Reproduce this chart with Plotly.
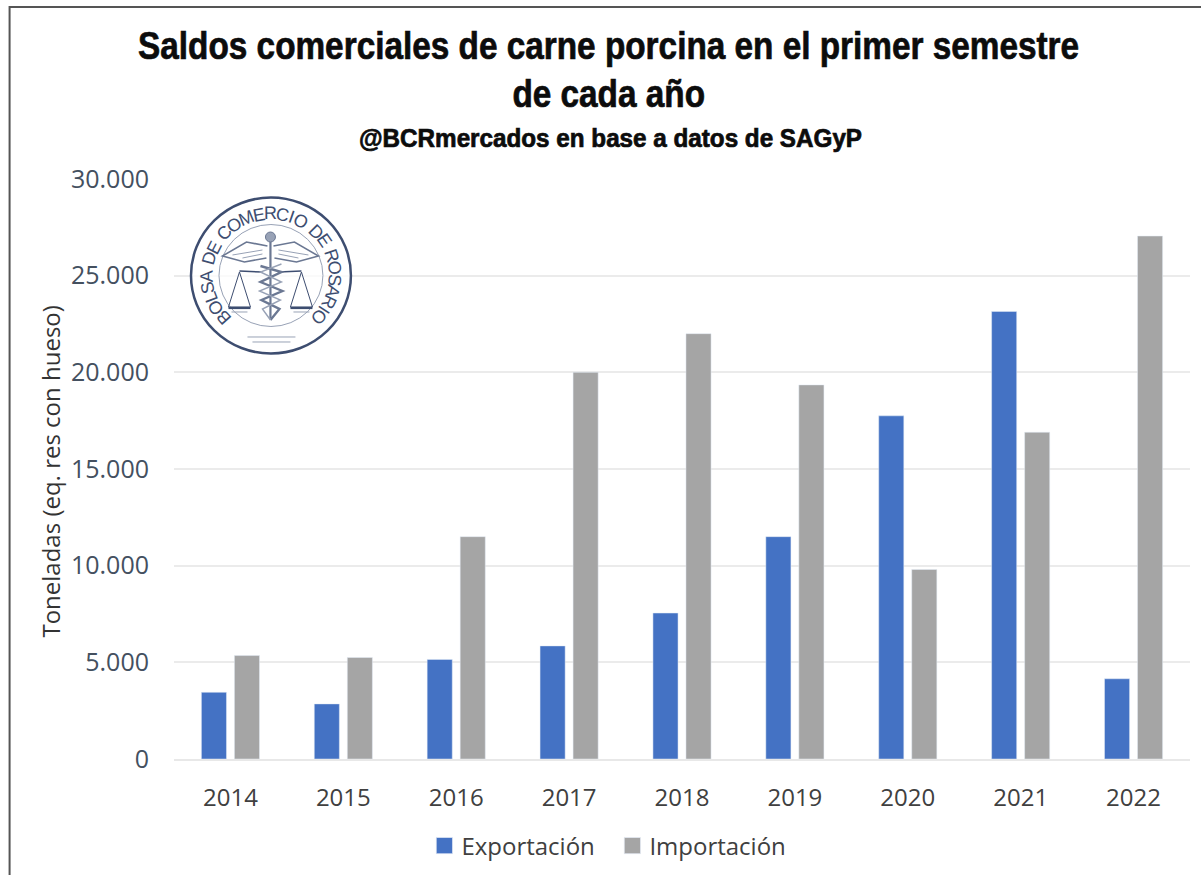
import math
import plotly.graph_objects as go

years = ["2014", "2015", "2016", "2017", "2018", "2019", "2020", "2021", "2022"]
exportacion = [3450, 2850, 5150, 5850, 7550, 11500, 17750, 23150, 4150]
importacion = [5350, 5250, 11500, 20000, 22000, 19350, 9800, 16900, 27050]
y_ticks = [0, 5000, 10000, 15000, 20000, 25000, 30000]
y_labels = ["0", "5.000", "10.000", "15.000", "20.000", "25.000", "30.000"]
logo_text = "BOLSA DE COMERCIO DE ROSARIO"
title_lines = ["Saldos comerciales de carne porcina en el primer semestre", "de cada año"]
subtitle = "@BCRmercados en base a datos de SAGyP"

W, H = 1201, 875
L, R, T, B = 173.5, 1190, 179, 759
NAVY = "#3d4d70"
SOFT = "#6b7893"
PALE = "#98a2b6"

def px(x):
    return (x - L) / (R - L)

def py(y):
    return (B - y) / (B - T)

def path(points):
    return "M " + " L ".join(f"{px(a):.5f},{py(b):.5f}" for a, b in points)

fig = go.Figure()
fig.add_bar(x=years, y=exportacion, name="Exportación", marker_color="#4472C4")
fig.add_bar(x=years, y=importacion, name="Importación", marker_color="#A5A5A5")

shapes = []
def line(points, width=1.3, color=NAVY):
    shapes.append(dict(type="path", xref="paper", yref="paper", path=path(points),
                       line=dict(color=color, width=width), layer="above"))

# frame: only the top and left edges show in the reference
line([(9, 885), (9, 7), (1201, 7)], 2, "#555555")
# logo rings
cx, cy = 270.5, 275.5
shapes.append(dict(type="circle", xref="paper", yref="paper", x0=px(cx-80), x1=px(cx+80), y0=py(cy-78), y1=py(cy+78),
                   fillcolor="rgba(255,255,255,0.75)", line=dict(color=NAVY, width=2.5), layer="above"))
shapes.append(dict(type="circle", xref="paper", yref="paper", x0=px(cx-52), x1=px(cx+52), y0=py(cy-51), y1=py(cy+51),
                   line=dict(color=PALE, width=1), layer="above"))
# staff and orb
line([(270, 236), (270, 318)], 2.2, SOFT)
shapes.append(dict(type="circle", xref="paper", yref="paper", x0=px(265), x1=px(275), y0=py(232), y1=py(242),
                   fillcolor=PALE, line=dict(color=SOFT, width=1), layer="above"))
for s in (-1, 1):
    # wing
    line([(270 + s*3, 246), (270 + s*24, 242), (270 + s*48, 256), (270 + s*26, 262), (270 + s*4, 258)], 1.6, SOFT)
    line([(270 + s*8, 250), (270 + s*38, 255)], 1, PALE)
    line([(270 + s*8, 254), (270 + s*28, 258)], 1, PALE)
    # beam
    line([(270 + s*8, 272), (270 + s*31, 271)], 1.5)
    # scale
    line([(270 + s*31, 272), (270 + s*20, 307), (270 + s*42, 307), (270 + s*31, 272)], 1)
    line([(270 + s*20, 308), (270 + s*42, 308)], 2.2)
    line([(270 + s*23, 312), (270 + s*39, 312)], 1, PALE)
line([(247, 337), (295, 337)], 1, PALE)
line([(252, 342), (290, 342)], 1, PALE)
# snake
line([(260, 266), (281, 272), (260, 282), (282, 291), (261, 300), (279, 309), (270, 320)], 2.4, SOFT)
line([(281, 264), (260, 272), (281, 282), (259, 291), (280, 300), (262, 309), (270, 320)], 1.4, PALE)

TITLE_FONT = dict(family="Liberation Sans", size=39, color="#0c0c0c", weight="bold")
annotations = [
    dict(text=title_lines[0], x=px(608), y=py(45), xref="paper", yref="paper", showarrow=False,
         font=TITLE_FONT, xanchor="center", yanchor="middle"),
    dict(text=title_lines[1], x=px(608), y=py(93), xref="paper", yref="paper", showarrow=False,
         font=TITLE_FONT, xanchor="center", yanchor="middle"),
    dict(text=subtitle, x=px(610), y=py(138), xref="paper", yref="paper", showarrow=False,
         font=dict(family="Liberation Sans", size=25, color="#0c0c0c", weight="bold"),
         xanchor="center", yanchor="middle"),
    dict(text="Toneladas (eq. res con hueso)", x=px(49), y=py(472), xref="paper", yref="paper", textangle=-90,
         showarrow=False, font=dict(family="Open Sans", size=24, color="#333333"),
         xanchor="center", yanchor="middle"),
]
# logo lettering on an arc, from lower left clockwise to lower right, spaced by rough letter widths
letter_width = {"I": 0.5, " ": 0.55, "M": 1.3, "O": 1.15, "C": 1.1, "D": 1.1, "R": 1.05, "E": 0.95, "L": 0.85, "S": 0.95, "B": 1.0, "A": 1.05}
widths = [letter_width[c] for c in logo_text]
total = sum(widths) - (widths[0] + widths[-1]) / 2
start, end = -132, 132
pos = 0.0
for i, ch in enumerate(logo_text):
    if i > 0:
        pos += (widths[i-1] + widths[i]) / 2
    if ch == " ":
        continue
    a = start + (end - start) * pos / total
    r = 64
    annotations.append(dict(text=ch, x=px(cx + r*math.sin(math.radians(a))), y=py(cy - r*0.97*math.cos(math.radians(a))),
                            xref="paper", yref="paper", showarrow=False, textangle=a,
                            font=dict(family="Liberation Sans", size=18, color=NAVY),
                            xanchor="center", yanchor="middle"))

fig.update_layout(
    width=W, height=H, autosize=False,
    margin=dict(l=L, r=W-R, t=T, b=H-B, pad=0, autoexpand=False),
    paper_bgcolor="white", plot_bgcolor="white",
    barmode="group", bargap=0.415, bargroupgap=0.24,
    font=dict(family="Open Sans", size=24, color="#404040"),
    xaxis=dict(type="category", showline=True, linecolor="#e8e8e8", linewidth=1.5, ticks="",
               tickfont=dict(size=24, color="#404040"), ticklabelstandoff=16),
    yaxis=dict(range=[0, 30000], tickvals=y_ticks, ticktext=y_labels, showgrid=True, gridcolor="#ebebeb",
               gridwidth=1.5, zeroline=False, ticks="", tickfont=dict(size=25, color="#44505f"),
               ticklabelstandoff=24),
    legend=dict(orientation="h", x=px(421), xanchor="left", y=py(846), yanchor="middle",
                font=dict(size=24, color="#404040"), traceorder="normal",
                entrywidth=143, entrywidthmode="pixels"),
    shapes=shapes, annotations=annotations,
)

# Page clean-up: no body margin, title lettering condensed as in the reference, bigger legend swatches.
post = """
document.body.style.margin = '0';
document.documentElement.style.overflow = 'hidden';
var factors = {'Saldos': 0.855, 'de cada': 0.855, '@BCR': 0.97};
document.querySelectorAll('.annotation-text').forEach(function (t) {
  var s = t.textContent;
  Object.keys(factors).forEach(function (k) {
    if (s.indexOf(k) === 0) {
      var c = parseFloat(t.getAttribute('x')) || 0;
      var old = t.getAttribute('transform') || '';
      t.setAttribute('transform', old + ' translate(' + c + ',0) scale(' + factors[k] + ',1) translate(' + (-c) + ',0)');
      t.style.stroke = '#0c0c0c';
      t.style.strokeWidth = '0.7px';
    }
  });
});
document.querySelectorAll('.legendpoints path').forEach(function (p) {
  var old = p.getAttribute('transform') || '';
  p.setAttribute('transform', old + ' translate(3,0) scale(1.35)');
});
"""
fig.write_html("out.html", post_script=post, config=dict(displayModeBar=False))
